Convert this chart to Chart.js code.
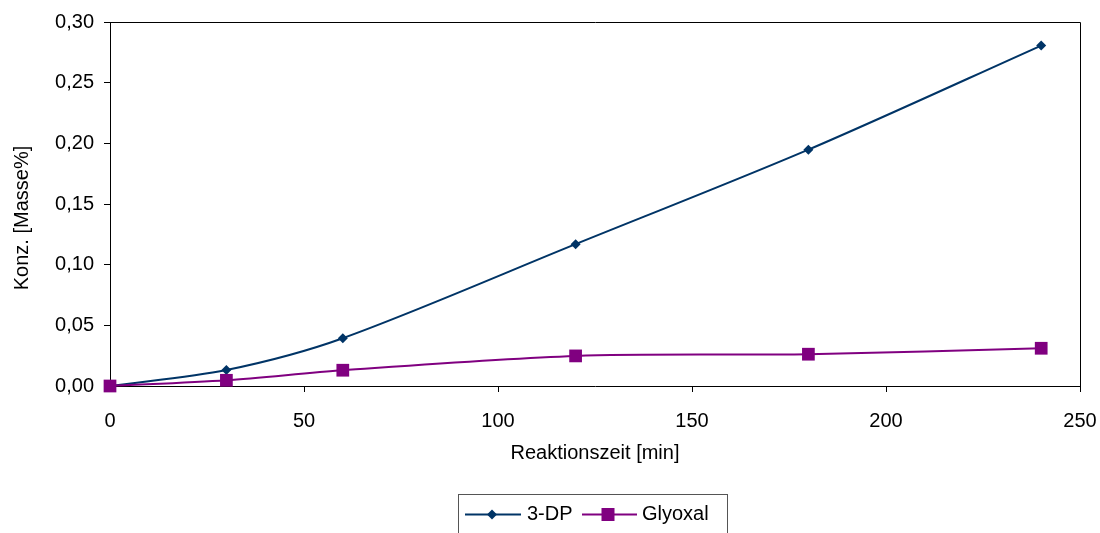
<!DOCTYPE html>
<html>
<head>
<meta charset="utf-8">
<script src="https://cdn.jsdelivr.net/npm/chart.js@4.4.0/dist/chart.umd.min.js"></script>
<style>
  html, body { margin: 0; padding: 0; background: #ffffff; }
  #wrap { width: 1100px; height: 533px; position: relative; }
</style>
</head>
<body>
<div id="wrap"><canvas id="c" width="1100" height="533"></canvas></div>
<script>
// ---- data ----
const times = [0, 30, 60, 120, 180, 240];
const dp3 = [0.000, 0.0132, 0.0394, 0.1169, 0.1948, 0.2806];
const glyoxal = [0.000, 0.0047, 0.0130, 0.0248, 0.0262, 0.0311];
const seriesNames = ['3-DP', 'Glyoxal'];
const xTitle = 'Reaktionszeit [min]';
const yTitle = 'Konz. [Masse%]';

const FONT = '"Liberation Sans", Arial, sans-serif';
const C_DP = '#003466';
const C_GLY = '#800080';

function pts(xs, ys) { return xs.map((x, i) => ({ x: x, y: ys[i] })); }

const frame = {
  id: 'frame',
  afterDatasetsDraw(chart) {
    const ctx = chart.ctx;
    const a = chart.chartArea;
    ctx.save();
    ctx.strokeStyle = '#000000';
    ctx.lineWidth = 1;
    ctx.beginPath();
    ctx.moveTo(Math.round(a.left) + 0.5, Math.round(a.top) + 0.5);
    ctx.lineTo(Math.round(a.right) + 0.5, Math.round(a.top) + 0.5);
    ctx.lineTo(Math.round(a.right) + 0.5, Math.round(a.bottom) + 0.5);
    ctx.stroke();
    ctx.restore();
  },
  afterDraw(chart) {
    const ctx = chart.ctx;
    ctx.save();
    // y title
    ctx.fillStyle = '#000000';
    ctx.font = '20px ' + FONT;
    ctx.textAlign = 'center';
    ctx.textBaseline = 'middle';
    ctx.translate(22, 218);
    ctx.rotate(-Math.PI / 2);
    ctx.fillText(yTitle, 0, 0);
    ctx.restore();

    // legend
    ctx.save();
    const lx = 458, ly = 494.5, lw = 269, lh = 45;
    ctx.strokeStyle = '#555555';
    ctx.lineWidth = 1;
    ctx.strokeRect(lx + 0.5, ly, lw, lh);
    const cy = 514.5;
    // 3-DP
    ctx.strokeStyle = C_DP; ctx.lineWidth = 2;
    ctx.beginPath(); ctx.moveTo(465, cy); ctx.lineTo(521, cy); ctx.stroke();
    ctx.fillStyle = C_DP;
    ctx.beginPath();
    ctx.moveTo(492, cy - 5); ctx.lineTo(497, cy); ctx.lineTo(492, cy + 5); ctx.lineTo(487, cy);
    ctx.closePath(); ctx.fill();
    // Glyoxal
    ctx.strokeStyle = C_GLY; ctx.lineWidth = 2;
    ctx.beginPath(); ctx.moveTo(582, cy); ctx.lineTo(637, cy); ctx.stroke();
    ctx.fillStyle = C_GLY;
    ctx.fillRect(608 - 6.5, cy - 6.5, 13, 13);
    // text
    ctx.fillStyle = '#000000';
    ctx.font = '20px ' + FONT;
    ctx.textAlign = 'left';
    ctx.textBaseline = 'middle';
    ctx.fillText(seriesNames[0], 527, cy);
    ctx.fillText(seriesNames[1], 642, cy);
    ctx.restore();
  }
};

new Chart(document.getElementById('c'), {
  type: 'line',
  data: {
    datasets: [
      {
        label: seriesNames[0],
        data: pts(times, dp3),
        borderColor: C_DP,
        backgroundColor: C_DP,
        borderWidth: 2,
        pointStyle: 'rectRot',
        pointRadius: 5,
        pointHoverRadius: 5,
        pointBorderWidth: 0,
        tension: 0.3,
        fill: false,
        clip: false,
        order: 1
      },
      {
        label: seriesNames[1],
        data: pts(times, glyoxal),
        borderColor: C_GLY,
        backgroundColor: C_GLY,
        borderWidth: 2,
        pointStyle: 'rect',
        pointRadius: 9,
        pointHoverRadius: 9,
        pointBorderWidth: 0,
        tension: 0.3,
        fill: false,
        clip: false,
        order: 0
      }
    ]
  },
  options: {
    responsive: false,
    animation: false,
    devicePixelRatio: 1,
    layout: { padding: { left: 0, right: 20, top: 22, bottom: 57 } },
    plugins: {
      legend: { display: false },
      tooltip: { enabled: false }
    },
    scales: {
      x: {
        type: 'linear',
        min: 0, max: 250,
        afterFit(scale) { scale.height = 90; scale.paddingLeft = 0; scale.paddingRight = 0; },
        ticks: {
          stepSize: 50,
          color: '#000000',
          font: { family: FONT, size: 20 },
          padding: 17,
          maxRotation: 0
        },
        grid: {
          drawOnChartArea: false,
          drawTicks: true,
          tickLength: 6,
          color: '#000000'
        },
        border: { display: true, color: '#000000', width: 1 },
        title: {
          display: true,
          text: xTitle,
          color: '#000000',
          font: { family: FONT, size: 20 },
          padding: { top: 0, bottom: 11 }
        }
      },
      y: {
        type: 'linear',
        min: 0, max: 0.30,
        afterFit(scale) { scale.width = 110; scale.paddingTop = 0; scale.paddingBottom = 0; },
        ticks: {
          stepSize: 0.05,
          color: '#000000',
          font: { family: FONT, size: 20 },
          padding: 10,
          callback: (v) => v.toFixed(2).replace('.', ',')
        },
        grid: {
          drawOnChartArea: false,
          drawTicks: true,
          tickLength: 6,
          color: '#000000'
        },
        border: { display: true, color: '#000000', width: 1 }
      }
    }
  },
  plugins: [frame]
});
</script>
</body>
</html>
